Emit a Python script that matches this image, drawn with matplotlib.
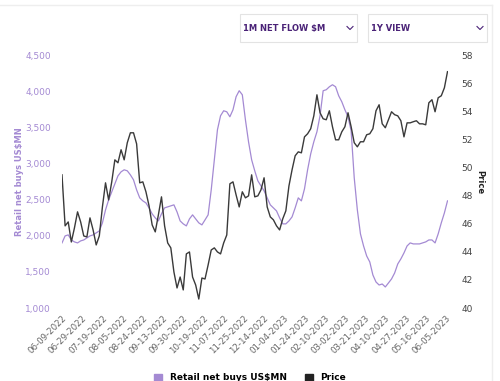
import numpy as np
import matplotlib.pyplot as plt
from matplotlib.lines import Line2D
from matplotlib.patches import Rectangle, Patch

# Retail net buys (US$MN), every 2nd trading day from 06-09-2022
flow = [1903, 2000, 2014, 1944, 1917, 1903, 1931, 1944, 1972, 2000,
        2014, 2042, 2069, 2181, 2361, 2500, 2611, 2722, 2833, 2889,
        2917, 2903, 2847, 2778, 2639, 2528, 2486, 2458, 2389, 2306,
        2250, 2208, 2306, 2389, 2403, 2417, 2431, 2333, 2208, 2167,
        2139, 2236, 2292, 2236, 2181, 2153, 2222, 2292, 2639, 3056,
        3472, 3667, 3736, 3722, 3653, 3750, 3931, 4014, 3958, 3611,
        3306, 3056, 2903, 2764, 2694, 2625, 2528, 2431, 2389, 2347,
        2250, 2167, 2167, 2208, 2264, 2389, 2528, 2486, 2653, 2917,
        3139, 3306, 3444, 3667, 4014, 4028, 4069, 4097, 4069, 3944,
        3861, 3750, 3653, 3458, 2806, 2361, 2028, 1861, 1722, 1639,
        1458, 1361, 1319, 1333, 1292, 1347, 1403, 1486, 1611, 1681,
        1764, 1861, 1903, 1889, 1889, 1889, 1903, 1917, 1944, 1944,
        1903, 2028, 2181, 2319, 2486]

# Price, same days
price = [49.50, 45.86, 46.14, 44.71, 45.71, 46.86, 46.14, 45.14, 45.07, 46.43,
         45.57, 44.50, 45.14, 47.21, 48.93, 47.71, 49.00, 50.57, 50.36, 51.29,
         50.57, 51.79, 52.50, 52.50, 51.71, 48.93, 49.00, 48.29, 47.29, 45.93,
         45.43, 46.64, 47.93, 45.86, 44.64, 44.29, 42.57, 41.43, 42.21, 41.29,
         43.86, 44.00, 42.21, 41.64, 40.64, 42.14, 42.07, 43.07, 44.14, 44.29,
         44.00, 43.86, 44.64, 45.21, 48.86, 49.00, 48.07, 47.21, 48.29, 47.86,
         48.00, 49.50, 47.93, 48.00, 48.43, 49.29, 47.21, 46.50, 46.29, 45.86,
         45.57, 46.36, 46.93, 48.71, 49.86, 50.86, 51.14, 51.07, 52.21, 52.43,
         52.79, 53.71, 55.21, 53.93, 53.50, 53.43, 54.07, 52.93, 52.00, 52.00,
         52.57, 52.93, 53.93, 52.93, 51.79, 51.50, 51.86, 51.86, 52.36, 52.43,
         52.79, 54.07, 54.50, 53.14, 52.86, 53.43, 54.00, 53.79, 53.71, 53.36,
         52.21, 53.21, 53.21, 53.29, 53.36, 53.14, 53.14, 53.07, 54.64, 54.86,
         54.00, 55.00, 55.14, 55.71, 56.86]

# category labels, one every 13 trading days
date_labels = ['06-09-2022', '06-29-2022', '07-19-2022', '08-05-2022', '08-24-2022',
               '09-13-2022', '09-30-2022', '10-19-2022', '11-07-2022', '11-25-2022',
               '12-14-2022', '01-04-2023', '01-24-2023', '02-10-2023', '03-02-2023',
               '03-21-2023', '04-10-2023', '04-27-2023', '05-16-2023', '06-05-2023']

purple = '#a48ad3'
dark = '#3a3a3a'
deep = '#4a2277'

x = np.arange(len(flow)) * 2
tick_pos = np.arange(len(date_labels)) * 13

fig = plt.figure(figsize=(5, 3.81), dpi=100)
ax = fig.add_axes([0.124, 0.1916, 0.771, 0.6622])
ax2 = ax.twinx()

ax.plot(x, flow, color=purple, lw=0.9)
ax2.plot(x, price, color=dark, lw=1.0)

ax.set_xlim(0, x[-1])
ax.set_ylim(1000, 4500)
ax2.set_ylim(40, 58)
ax.set_yticks(np.arange(1000, 4501, 500))
ax.set_yticklabels([f'{v:,}' for v in range(1000, 4501, 500)])
ax2.set_yticks(np.arange(40, 59, 2))

ax.set_xticks(tick_pos)
ax.set_xticklabels(date_labels, rotation=45, ha='right', va='top',
                   rotation_mode='anchor', fontsize=6.2, color='#666666')

for a in (ax, ax2):
    for s in a.spines.values():
        s.set_visible(False)
    a.tick_params(length=0)

ax.tick_params(axis='y', labelsize=6.5, labelcolor=purple, pad=8)
ax.tick_params(axis='x', pad=4)
ax2.tick_params(axis='y', labelsize=6.5, labelcolor='#444444', pad=10)

ax.set_ylabel('Retail net buys US$MN', color=purple, fontsize=6, fontweight='bold', labelpad=1)
ax2.set_ylabel('Price', color='#222222', fontsize=6, fontweight='bold', rotation=270, labelpad=8)

handles = [Patch(color=purple, label='Retail net buys US$MN'),
           Patch(color='#222222', label='Price')]
fig.legend(handles=handles, loc='lower center', bbox_to_anchor=(0.5, -0.025), ncol=2,
           frameon=False, handlelength=0.9, handleheight=0.9, columnspacing=2,
           prop={'size': 6.5, 'weight': 'bold'})

# page frame lines
fig.add_artist(Line2D([0, 0.984], [0.987, 0.987], color='#eeeeee', lw=1))
fig.add_artist(Line2D([0.984, 0.984], [0, 0.987], color='#eeeeee', lw=1))

# dropdown boxes
boxes = [(240, 357, '1M NET FLOW $M'), (368, 487, '1Y VIEW')]
for x0, x1, label in boxes:
    W, H = 500, 381
    fig.add_artist(Rectangle((x0 / W, 1 - 42 / H), (x1 - x0) / W, 28 / H,
                             transform=fig.transFigure, facecolor='white',
                             edgecolor='#e3e3e3', lw=0.8))
    fig.text((x0 + 3) / W, 1 - 28.5 / H, label, fontsize=6, fontweight='bold',
             color=deep, va='center', ha='left')
    cx = (x1 - 7) / W
    cy = 1 - 28 / H
    fig.add_artist(Line2D([cx - 3 / W, cx, cx + 3 / W], [cy + 1.5 / H, cy - 1.5 / H, cy + 1.5 / H],
                          color=deep, lw=0.8))

fig.savefig('out.png', dpi=100)
